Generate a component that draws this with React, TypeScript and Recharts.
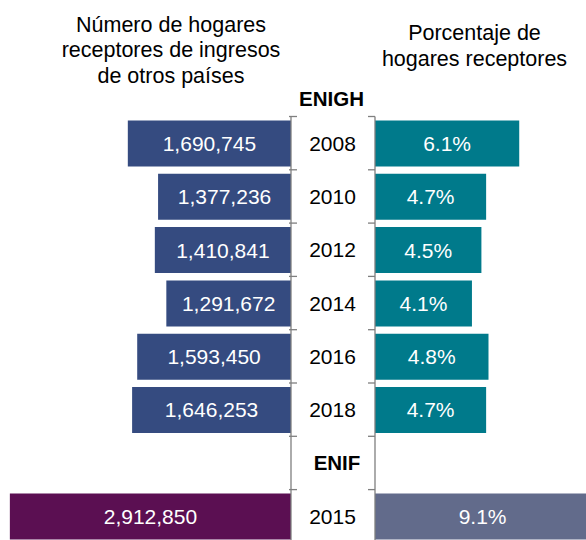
import React from 'react';
import { BarChart, Bar, XAxis, YAxis, Cell, LabelList } from 'recharts';

// ---- data ----
const years = ['2008', '2010', '2012', '2014', '2016', '2018', 'ENIF', '2015'];
const fuentes = ['ENIGH', 'ENIGH', 'ENIGH', 'ENIGH', 'ENIGH', 'ENIGH', 'ENIF', 'ENIF'];
const hogares: (number | null)[] = [1690745, 1377236, 1410841, 1291672, 1593450, 1646253, null, 2912850];
const porcentaje: (number | null)[] = [6.1, 4.7, 4.5, 4.1, 4.8, 4.7, null, 9.1];
const leftTitle = ['Número de hogares', 'receptores de ingresos', 'de otros países'];
const rightTitle = ['Porcentaje de', 'hogares receptores'];
const topLabel = 'ENIGH';

const data = years.map((y, i) => ({
  year: y,
  fuente: fuentes[i],
  hogares: hogares[i],
  pct: porcentaje[i],
}));

const leftColors: Record<string, string> = { ENIGH: '#354B80', ENIF: '#5B0F52' };
const rightColors: Record<string, string> = { ENIGH: '#007A8B', ENIF: '#626B8B' };

const FONT = '"Liberation Sans", Arial, sans-serif';
const CH = 560;
const MT = 116.5;
const MB = 17.1;
const BAND = (CH - MT - MB) / years.length;
const AXIS_W = 84;
const AXIS_COLOR = '#7f7f7f';

const LeftTick = (props: any) => {
  const { x, y, payload, index } = props;
  const last = index === years.length - 1;
  const isBold = payload.value === 'ENIF';
  return (
    <g>
      <line x1={x - 2} x2={x + 6} y1={y - BAND / 2} y2={y - BAND / 2} stroke={AXIS_COLOR} strokeWidth={1.3} />
      {last && (
        <line x1={x - 2} x2={x + 6} y1={y + BAND / 2} y2={y + BAND / 2} stroke={AXIS_COLOR} strokeWidth={1.3} />
      )}
      <text
        x={x + (isBold ? 46 : 41.5)}
        y={y}
        textAnchor="middle"
        dominantBaseline="central"
        fontSize={isBold ? 20.5 : 21}
        fontWeight={isBold ? 'bold' : 'normal'}
        fill="#000"
        fontFamily={FONT}
      >
        {payload.value}
      </text>
    </g>
  );
};

const RightTick = (props: any) => {
  const { x, y, index } = props;
  const last = index === years.length - 1;
  return (
    <g>
      <line x1={x - 7} x2={x} y1={y - BAND / 2} y2={y - BAND / 2} stroke={AXIS_COLOR} strokeWidth={1.3} />
      {last && <line x1={x - 7} x2={x} y1={y + BAND / 2} y2={y + BAND / 2} stroke={AXIS_COLOR} strokeWidth={1.3} />}
    </g>
  );
};

const fmtNum = (v: any) => (v == null ? '' : Number(v).toLocaleString('en-US'));
const fmtPct = (v: any) => (v == null ? '' : Number(v).toFixed(1) + '%');

export default function App() {
  return (
    <div
      style={{
        position: 'absolute',
        left: 0,
        top: 0,
        width: 586,
        height: 540,
        overflow: 'hidden',
        background: '#fff',
        fontFamily: FONT,
      }}
    >
      <div style={{ position: 'absolute', left: 0, top: 0 }}>
        <BarChart
          layout="vertical"
          width={291 + AXIS_W}
          height={CH}
          data={data}
          margin={{ top: MT, right: 0, bottom: MB, left: 0 }}
          barSize={46}
        >
          <XAxis type="number" domain={[0, 3015000]} reversed hide />
          <YAxis
            type="category"
            dataKey="year"
            orientation="right"
            width={AXIS_W}
            interval={0}
            axisLine={{ stroke: AXIS_COLOR, strokeWidth: 1.3 }}
            tickLine={false}
            tickSize={0}
            tickMargin={0}
            tick={(p: any) => <LeftTick {...p} />}
          />
          <Bar dataKey="hogares" isAnimationActive={false}>
            {data.map((d, i) => (
              <Cell key={i} fill={leftColors[d.fuente]} />
            ))}
            <LabelList
              dataKey="hogares"
              position="center"
              fill="#ffffff"
              fontSize={21}
              fontFamily={FONT}
              formatter={fmtNum}
            />
          </Bar>
        </BarChart>
      </div>
      <div style={{ position: 'absolute', left: 291, top: 0 }}>
        <BarChart
          layout="vertical"
          width={AXIS_W + 240}
          height={CH}
          data={data}
          margin={{ top: MT, right: 0, bottom: MB, left: 0 }}
          barSize={46}
        >
          <XAxis type="number" domain={[0, 10.15]} hide />
          <YAxis
            type="category"
            dataKey="year"
            orientation="left"
            width={AXIS_W}
            interval={0}
            axisLine={{ stroke: AXIS_COLOR, strokeWidth: 1.3 }}
            tickLine={false}
            tickSize={0}
            tickMargin={0}
            tick={(p: any) => <RightTick {...p} />}
          />
          <Bar dataKey="pct" isAnimationActive={false}>
            {data.map((d, i) => (
              <Cell key={i} fill={rightColors[d.fuente]} />
            ))}
            <LabelList
              dataKey="pct"
              position="center"
              fill="#ffffff"
              fontSize={21}
              fontFamily={FONT}
              formatter={fmtPct}
            />
          </Bar>
        </BarChart>
      </div>
      <svg
        width={586}
        height={540}
        style={{ position: 'absolute', left: 0, top: 0, pointerEvents: 'none' }}
        fontFamily={FONT}
      >
        {leftTitle.map((t, i) => (
          <text key={t} x={171} y={31.5 + i * 25.7} textAnchor="middle" fontSize={21.5} fill="#000">
            {t}
          </text>
        ))}
        {rightTitle.map((t, i) => (
          <text key={t} x={474.5} y={40 + i * 25.7} textAnchor="middle" fontSize={21.5} fill="#000">
            {t}
          </text>
        ))}
        <text x={331.5} y={105.5} textAnchor="middle" fontSize={20.5} fontWeight="bold" fill="#000">
          {topLabel}
        </text>
      </svg>
    </div>
  );
}
